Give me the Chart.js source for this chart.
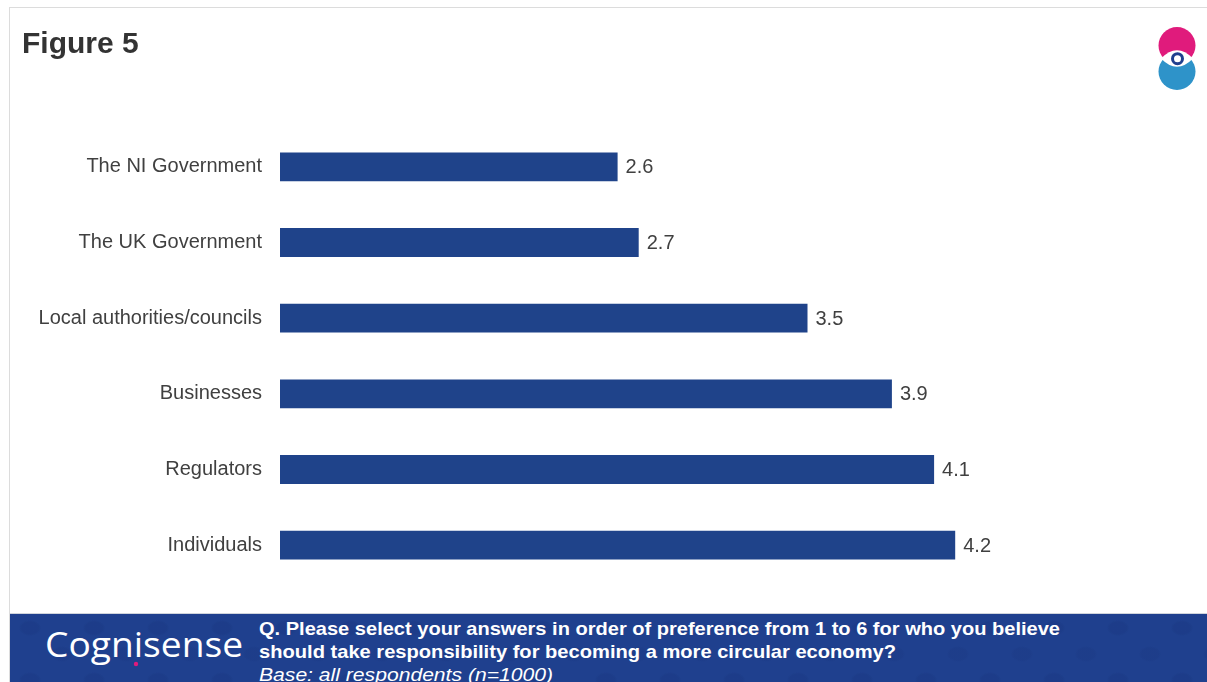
<!DOCTYPE html>
<html>
<head>
<meta charset="utf-8">
<title>Figure 5</title>
<script src="https://cdn.jsdelivr.net/npm/chart.js@4.4.1/dist/chart.umd.min.js"></script>
<style>
  html, body { margin: 0; padding: 0; background: #ffffff; }
  body { width: 1207px; height: 682px; position: relative; overflow: hidden; font-family: "Liberation Sans", Arial, sans-serif; }
  #slide { position: absolute; left: 9px; top: 7px; right: 0; bottom: 0; border-left: 1px solid #dcdcdc; border-top: 1px solid #dcdcdc; }
  #title { position: absolute; left: 22px; top: 26px; font: bold 30px "Liberation Sans", Arial, sans-serif; color: #333333; margin: 0; }
  #chartBox { position: absolute; left: 0; top: 0; width: 1207px; height: 613px; }
  #logo { position: absolute; left: 1150px; top: 20px; }
  #footer { position: absolute; left: 10px; top: 613px; width: 1197px; height: 69px; border-top: 1px solid #d0d4dc; overflow: hidden;
    background-color: #1f408e;
    background-image:
      radial-gradient(ellipse 14px 10px at 20px 14px, rgba(10,30,90,0.10) 60%, transparent 80%),
      radial-gradient(ellipse 14px 10px at 52px 40px, rgba(10,30,90,0.08) 60%, transparent 80%);
    background-size: 64px 52px; }
  #footer svg { position: absolute; left: 0; top: 0; }
</style>
</head>
<body>
<div id="slide"></div>
<div id="chartBox"><canvas id="chart"></canvas></div>
<h1 id="title">Figure 5</h1>

<svg id="logo" width="54" height="76" viewBox="0 0 54 76">
  <circle cx="27" cy="51.5" r="18.5" fill="#2e93c9"/>
  <circle cx="27" cy="25.5" r="18.5" fill="#e01b7c"/>
  <path d="M11 38.5 Q27 22 43 38.5 Q27 55 11 38.5 Z" fill="#ffffff"/>
  <circle cx="27.5" cy="38.7" r="5" fill="none" stroke="#1f3f8e" stroke-width="3"/>
</svg>

<div id="footer">
  <svg width="1197" height="69" viewBox="0 0 1197 69">
    <text x="35" y="43" font-family="'Open Sans', 'Noto Sans', sans-serif" font-size="34" font-weight="400"
          fill="#ffffff" textLength="198" lengthAdjust="spacingAndGlyphs">Cognisense</text>
    <circle cx="126" cy="50" r="2.2" fill="#e01b7c"/>
    <g font-family="'Liberation Sans', Arial, sans-serif" font-size="19" fill="#ffffff">
      <text x="249" y="21" font-weight="bold" textLength="801" lengthAdjust="spacingAndGlyphs">Q. Please select your answers in order of preference from 1 to 6 for who you believe</text>
      <text x="249" y="44" font-weight="bold" textLength="637" lengthAdjust="spacingAndGlyphs">should take responsibility for becoming a more circular economy?</text>
      <text x="249" y="67" font-style="italic" textLength="294" lengthAdjust="spacingAndGlyphs" text-decoration="underline">Base: all respondents (n=1000)</text>
    </g>
  </svg>
</div>

<script>
// Mean preference rank per group (1 = most responsible, 6 = least)
const categories = [
  'The NI Government',
  'The UK Government',
  'Local authorities/councils',
  'Businesses',
  'Regulators',
  'Individuals'
];
const meanRank = [2.6, 2.7, 3.5, 3.9, 4.1, 4.2];

const BAR_COLOR = '#1f438a';
const TEXT_COLOR = '#404040';

// Writes each bar's value just past its end
const valueLabels = {
  id: 'valueLabels',
  afterDatasetsDraw(chart) {
    const { ctx } = chart;
    const meta = chart.getDatasetMeta(0);
    ctx.save();
    ctx.font = '20px "Liberation Sans", Arial, sans-serif';
    ctx.fillStyle = TEXT_COLOR;
    ctx.textAlign = 'left';
    ctx.textBaseline = 'middle';
    meta.data.forEach((bar, i) => {
      ctx.fillText(meanRank[i].toFixed(1), bar.x + 8, bar.y + 1);
    });
    ctx.restore();
  }
};

new Chart(document.getElementById('chart'), {
  type: 'bar',
  data: {
    labels: categories,
    datasets: [{
      data: meanRank,
      backgroundColor: BAR_COLOR,
      borderWidth: 0,
      barPercentage: 0.76,
      categoryPercentage: 0.5
    }]
  },
  options: {
    indexAxis: 'y',
    responsive: true,
    maintainAspectRatio: false,
    animation: false,
    layout: { padding: { top: 129, bottom: 26, left: 0, right: 83 } },
    plugins: {
      legend: { display: false },
      tooltip: { enabled: false }
    },
    scales: {
      x: {
        min: 1,
        max: 5,
        display: false,
        grid: { display: false }
      },
      y: {
        grid: { display: false, drawTicks: false },
        border: { display: false },
        afterFit(scale) { scale.width = 280; },
        ticks: {
          padding: 18,
          color: TEXT_COLOR,
          font: { family: '"Liberation Sans", Arial, sans-serif', size: 20 }
        }
      }
    }
  },
  plugins: [valueLabels]
});
</script>
</body>
</html>
